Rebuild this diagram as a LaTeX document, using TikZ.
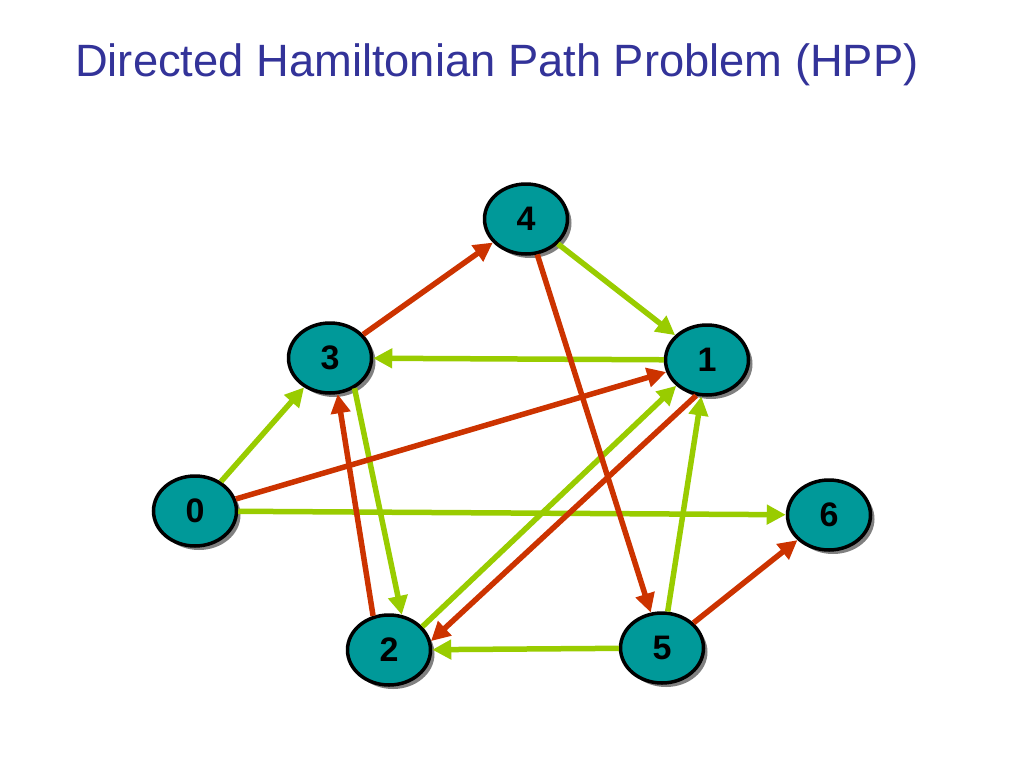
\documentclass[tikz,border=0pt]{standalone}
\usepackage{fontspec}
\setmainfont{Liberation Sans}
\usetikzlibrary{arrows.meta,shapes.geometric,shadows}
\definecolor{titleblue}{RGB}{51,51,153}
\definecolor{vteal}{RGB}{0,153,153}
\definecolor{egreen}{RGB}{153,204,0}
\definecolor{ered}{RGB}{204,51,0}

\begin{document}
\begin{tikzpicture}[x=1pt,y=-1pt,
  vertex/.style={ellipse,draw=black,line width=3.5pt,fill=vteal,minimum width=83pt,minimum height=70pt,inner sep=0pt,
    font=\fontsize{34}{36}\selectfont\bfseries,
    drop shadow={shadow xshift=4pt,shadow yshift=-4pt,fill=black!50,opacity=1}},
  edge/.style={line width=5.5pt,-{Triangle[length=19pt,width=19pt]}},
  gedge/.style={edge,egreen},
  redge/.style={edge,ered}]
\useasboundingbox (0,0) rectangle (1024,768);
\node[anchor=base west,text=titleblue,font=\fontsize{45.3}{52}\selectfont,inner sep=0pt] (title) at (75,77) {Directed Hamiltonian Path Problem (HPP)};
\node[vertex] (v4) at (526,219) {4};
\node[vertex] (v3) at (330,358) {3};
\node[vertex] (v1) at (707,360) {1};
\node[vertex] (v0) at (195,511) {0};
\node[vertex] (v6) at (829,515) {6};
\node[vertex] (v2) at (389,650) {2};
\node[vertex] (v5) at (662,648) {5};
% green edges
\foreach \a/\b in {v0/v3,v4/v1,v1/v3,v0/v6,v5/v2,v5/v1}{\draw[gedge] (\a)--(\b);}
\draw[gedge] (v3.-51)--(v2.70);
\draw[gedge] (v2.35)--(v1.220);
% red edges
\foreach \a/\b in {v3/v4,v0/v1,v4/v5,v5/v6}{\draw[redge] (\a)--(\b);}
\draw[redge] (v2.115)--(v3.-78);
\draw[redge] (v1.253)--(v2.12);
\end{tikzpicture}
\end{document}
